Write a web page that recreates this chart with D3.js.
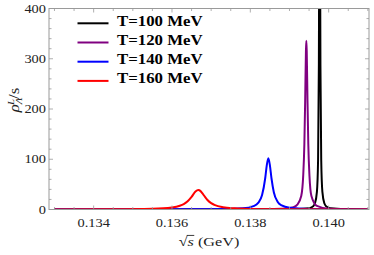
<!DOCTYPE html>
<html><head><meta charset="utf-8">
<script src="https://cdn.jsdelivr.net/npm/d3@7"></script>
<style>body{margin:0;background:#fff}svg{display:block}</style>
</head><body>
<script>
// ---- data ----
const seriesLabels = ["T=100 MeV","T=120 MeV","T=140 MeV","T=160 MeV"];
const seriesColors = ["#000000","#800080","#0000ff","#ff0000"];

const x100 = [0.1330,0.1390,0.1395,0.1396,0.13965,0.1397,0.13973,0.13975,0.13976,0.13977,0.13978,0.13979,0.13981,0.13984,0.13989,0.13994,0.14004,0.1406,0.1410];
const y100 = [0.02,0.3,2.5,6.2,12.3,35,99,288,554,800,554,288,99,35,12.3,6.2,2.5,0.26,0.1];

const x120 = [0.1330,0.1380,0.1388,0.1391,0.1392,0.1393,0.13935,0.13938,0.1394,0.13942,0.13943,0.13944,0.13946,0.13948,0.13951,0.13956,0.1397,0.1400,0.1410];
const y120 = [0.01,0.26,1.35,4.8,9.6,26.8,67,131,215,316,336,316,215,131,67,26.8,7.1,1.6,0.22];

const x140 = [0.1330,0.1370,0.1378,0.1381,0.1382,0.1383,0.13838,0.13842,0.13846,0.1385,0.13854,0.1386,0.1387,0.1388,0.1390,0.1395,0.1410];
const y140 = [0.03,0.48,2.3,7.3,13.1,28.7,62.2,87.9,102,87.9,62.2,34.5,15.1,8.1,3.4,0.93,0.16];

const x160 = [0.1330,0.1345,0.1355,0.1360,0.1362,0.1363,0.1364,0.1365,0.1366,0.13667,0.1367,0.1368,0.1369,0.1370,0.1371,0.1373,0.1376,0.1380,0.1390,0.1410];
const y160 = [0.15,0.43,1.45,4.1,7.5,10.9,16.4,25.2,35.7,39,38.3,29.6,19.5,12.7,8.7,4.6,2.25,1.13,0.38,0.11];

const xTicks = [0.134,0.136,0.138,0.140];
const yTicks = [0,100,200,300,400];

// ---- layout ----
const W=374,H=255;
const L=49,R=369,T=8.5,B=209.5;
const SX=1.2; // horizontal stretch of the glyphs in the reference
const svg=d3.select("body").append("svg").attr("width",W).attr("height",H);
const x=d3.scaleLinear().domain([0.13286,0.14103]).range([L,R]);
const y=d3.scaleLinear().domain([0,400]).range([B,T]);

svg.append("clipPath").attr("id","clip").append("rect")
  .attr("x",L).attr("y",T).attr("width",R-L).attr("height",B-T);

const series=[[x100,y100],[x120,y120],[x140,y140],[x160,y160]];
const line=d3.line().x(d=>x(d[0])).y(d=>y(d[1])).curve(d3.curveMonotoneX);
const g=svg.append("g").attr("clip-path","url(#clip)");
series.forEach((s,i)=>{
  const pts=s[0].map((v,j)=>[v,s[1][j]]);
  g.append("path").datum(pts).attr("d",line).attr("fill","none")
   .attr("stroke",seriesColors[i]).attr("stroke-width",2).attr("stroke-linejoin","round");
});

// ---- frame & ticks ----
const frameCol="#9a9a9a";
svg.append("rect").attr("x",L).attr("y",T).attr("width",R-L).attr("height",B-T)
  .attr("fill","none").attr("stroke",frameCol).attr("stroke-width",1);

const xMinor=d3.range(0.1330,0.14101,0.0005).filter(v=>v>x.domain()[0]&&v<x.domain()[1]);
const yMinor=d3.range(0,401,20);
const tk=svg.append("g").attr("stroke",frameCol).attr("stroke-width",0.8);
xMinor.forEach(v=>{
  const isMaj=xTicks.some(t=>Math.abs(t-v)<1e-7);
  const len=isMaj?4:2.5;
  tk.append("line").attr("x1",x(v)).attr("x2",x(v)).attr("y1",B).attr("y2",B-len);
  tk.append("line").attr("x1",x(v)).attr("x2",x(v)).attr("y1",T).attr("y2",T+len);
});
yMinor.forEach(v=>{
  const isMaj=yTicks.includes(v);
  const len=isMaj?4:2.5;
  tk.append("line").attr("x1",L).attr("x2",L+len).attr("y1",y(v)).attr("y2",y(v));
  tk.append("line").attr("x1",R).attr("x2",R-len).attr("y1",y(v)).attr("y2",y(v));
});

function txt(px,py,str,opts){
  const t=svg.append("text").attr("transform",`translate(${px},${py}) scale(${SX},1)`)
    .attr("font-family","'Liberation Serif','Times New Roman',serif")
    .attr("font-size",opts.size||12).attr("fill",opts.fill||"#222")
    .attr("text-anchor",opts.anchor||"start");
  if(opts.weight) t.attr("font-weight",opts.weight);
  t.text(str);
  return t;
}
xTicks.forEach(v=>txt(x(v),226.5,d3.format(".3f")(v),{anchor:"middle"}));
yTicks.forEach(v=>txt(46,y(v)+4,String(v),{anchor:"end"}));

// x label
const xg=svg.append("g").attr("transform",`translate(${(L+R)/2},246) scale(${SX},1)`);
const xl=xg.append("text")
  .attr("font-family","'Liberation Serif',serif").attr("font-size",13.5).attr("fill","#222")
  .attr("text-anchor","middle");
xl.append("tspan").text("√");
xl.append("tspan").attr("font-style","italic").text("s");
xl.append("tspan").text(" (GeV)");
try{
  const e0=xl.node().getExtentOfChar(0), e1=xl.node().getExtentOfChar(1);
  xg.append("line").attr("x1",e0.x+e0.width-0.6).attr("x2",e1.x+e1.width+0.3)
    .attr("y1",e0.y+1.2).attr("y2",e0.y+1.2).attr("stroke","#222").attr("stroke-width",0.8);
}catch(err){}

// y label
const yl=svg.append("text").attr("transform",`translate(19,100) rotate(-90) scale(${SX},1)`)
  .attr("font-family","'Liberation Serif',serif").attr("font-size",14).attr("fill","#222")
  .attr("text-anchor","middle");
yl.append("tspan").attr("font-style","italic").text("ρ");
yl.append("tspan").attr("font-size",9).attr("font-style","italic").attr("dy",3).text("Λ");
yl.append("tspan").attr("font-size",9).attr("font-style","italic").attr("dx",-6).attr("dy",-8.5).text("L");
yl.append("tspan").attr("dy",5.5).text("/s");

// legend
const legY=[23.3,42.5,61.7,80.9];
seriesLabels.forEach((lab,i)=>{
  svg.append("line").attr("x1",77.5).attr("x2",108.5).attr("y1",legY[i]).attr("y2",legY[i])
    .attr("stroke",seriesColors[i]).attr("stroke-width",2);
  txt(117,legY[i]+2.3,lab,{size:14,weight:"bold",fill:"#000"});
});
</script>
</body></html>
